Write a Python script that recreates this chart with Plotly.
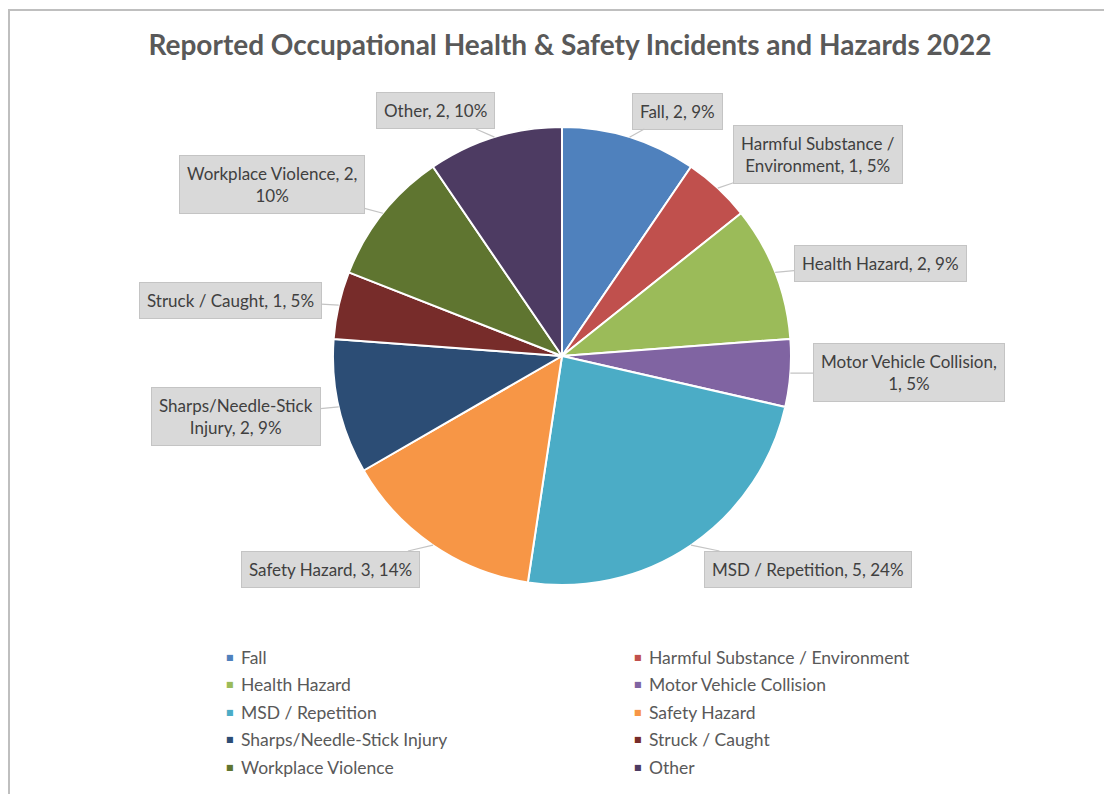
import math
import plotly.graph_objects as go

# ---- data ----
labels = ["Fall", "Harmful Substance / Environment", "Health Hazard",
          "Motor Vehicle Collision", "MSD / Repetition", "Safety Hazard",
          "Sharps/Needle-Stick Injury", "Struck / Caught",
          "Workplace Violence", "Other"]
values = [2, 1, 2, 1, 5, 3, 2, 1, 2, 2]
percents = ["9%", "5%", "9%", "5%", "24%", "14%", "9%", "5%", "10%", "10%"]
colors = ["#4F81BD", "#C0504D", "#9BBB59", "#8064A2", "#4BACC6",
          "#F79646", "#2C4D75", "#772C2A", "#5F7530", "#4D3B62"]
# where to wrap each callout label (text as it appears)
callout_names = ["Fall", "Harmful Substance /<br>Environment", "Health Hazard",
                 "Motor Vehicle Collision,<br>", "MSD / Repetition", "Safety Hazard",
                 "Sharps/Needle-Stick<br>Injury", "Struck / Caught",
                 "Workplace Violence, {v},<br>", "Other"]

# ---- layout constants (page pixels) ----
W, H = 1104, 794
CX, CY, R = 562, 356, 229
FONT = "Lato"
# callout box centres (page pixels)
box_centres = [(677, 111), (818, 154), (880, 263), (909, 373), (808, 569),
               (330, 569), (236, 416), (230, 300), (272, 184), (435, 111)]


def px(x):
    return x / W


def py(y):
    return 1 - y / H


def callout_text(i):
    n = callout_names[i]
    v, p = values[i], percents[i]
    if n.endswith("<br>"):
        if "{v}" in n:
            return n.format(v=v) + p
        return n + f"{v}, {p}"
    return f"{n}, {v}, {p}"


fig = go.Figure()
fig.add_trace(go.Pie(
    labels=labels, values=values, sort=False, direction="clockwise", rotation=0,
    marker=dict(colors=colors, line=dict(color="white", width=2)),
    textinfo="none", showlegend=False,
    domain=dict(x=[px(CX - R), px(CX + R)], y=[py(CY + R), py(CY - R)]),
))

annotations = []
total = sum(values)
cum = 0
for i, v in enumerate(values):
    mid = 2 * math.pi * (cum + v / 2) / total
    cum += v
    tx = CX + R * math.sin(mid)
    ty = CY - R * math.cos(mid)
    bx, by = box_centres[i]
    annotations.append(dict(
        x=px(tx), y=py(ty), xref="paper", yref="paper",
        ax=bx - tx, ay=by - ty, axref="pixel", ayref="pixel",
        text=callout_text(i), showarrow=True, arrowhead=0, arrowwidth=1.2,
        arrowcolor="#C4C4C4", standoff=0, startstandoff=0,
        bgcolor="#D9D9D9", bordercolor="#C4C4C4", borderwidth=1, borderpad=7,
        font=dict(family=FONT, size=17, color="#404040"), align="center",
    ))

# legend (two columns)
for i, name in enumerate(labels):
    col, row = i % 2, i // 2
    mx = 230 if col == 0 else 638
    yy = 657 + row * 27.5
    annotations.append(dict(
        x=px(mx), y=py(yy), xref="paper", yref="paper", showarrow=False,
        text="■", font=dict(family="DejaVu Sans", size=8, color=colors[i]),
        xanchor="center", yanchor="middle"))
    annotations.append(dict(
        x=px(mx + 9), y=py(yy), xref="paper", yref="paper", showarrow=False,
        text=name, font=dict(family=FONT, size=17.5, color="#595959"),
        xanchor="left", yanchor="middle"))

fig.update_layout(
    width=W, height=H, margin=dict(l=0, r=0, t=0, b=0),
    paper_bgcolor="white", plot_bgcolor="white",
    title=dict(text="Reported Occupational Health & Safety Incidents and Hazards 2022",
               x=px(570), xanchor="center", y=py(45), yanchor="middle",
               font=dict(family=FONT, size=28, color="#595959", weight="bold")),
    annotations=annotations,
    shapes=[
        dict(type="line", xref="paper", yref="paper", x0=px(8), x1=1, y0=py(10), y1=py(10),
             line=dict(color="#BFBFBF", width=2)),
        dict(type="line", xref="paper", yref="paper", x0=px(9), x1=px(9), y0=py(10), y1=0,
             line=dict(color="#BFBFBF", width=2)),
    ],
)

fig.write_html(
    "out.html",
    config={"displayModeBar": False},
    post_script="document.body.style.margin='0';document.body.style.overflow='hidden';",
)
